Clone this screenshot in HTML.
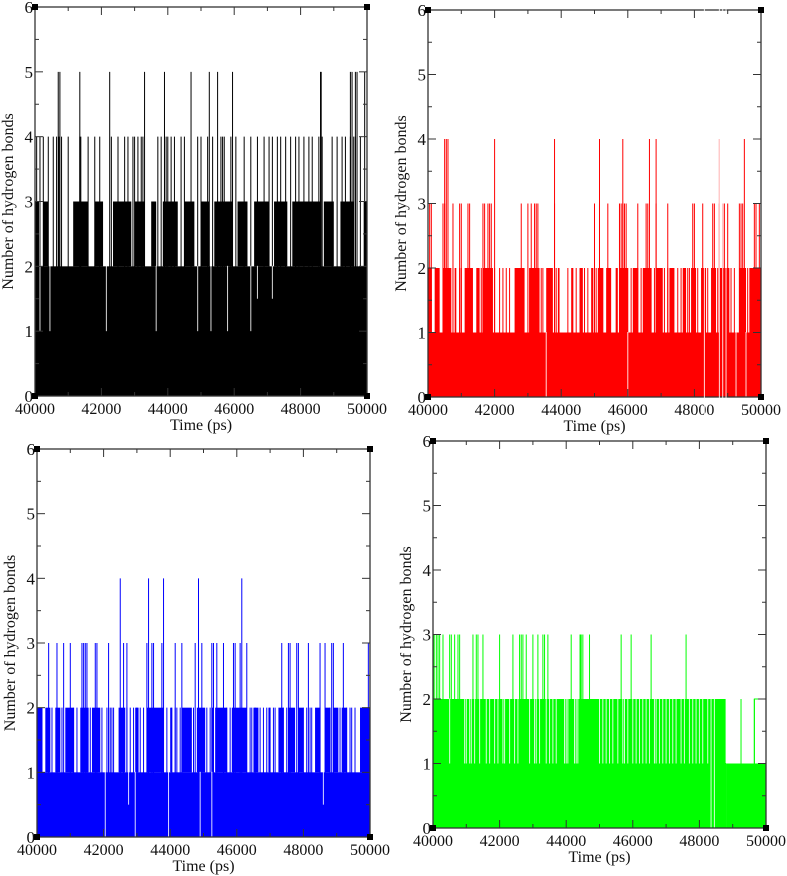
<!DOCTYPE html>
<html><head><meta charset="utf-8">
<style>
html,body{margin:0;padding:0;background:#fff;}
svg{display:block;font-family:"Liberation Serif",serif;}
</style></head>
<body>
<svg id="fig" width="787" height="876" viewBox="0 0 787 876"></svg>
<script>
// ---------- DATA ----------
const xTicks = [40000,42000,44000,46000,48000,50000];
const yTicks = [0,1,2,3,4,5,6];
// Panel A (black)
const aBase = [[40000,50000,2]];
const aBand = [[40000,40120,3],[40250,40400,3],[41150,41600,3],[41800,42050,3],[42350,42900,3],[43000,43300,3],[43500,43650,3],[43850,44300,3],[44500,44800,3],[45000,45250,3],[45400,45950,3],[46100,46400,3],[46600,47050,3],[47200,47600,3],[47750,48600,3],[48700,49000,3],[49200,49600,3],[49900,50000,3]];
const aSpikeT = [40050,40150,40250,40400,40550,40650,40720,40800,41000,41350,41380,41600,41800,41950,42300,42500,42700,42800,42950,43000,43100,43200,43250,43700,43800,43900,43950,44000,44100,44200,44400,44500,44900,45000,45200,45350,45600,45650,45700,45900,46050,46300,46500,46700,46900,47050,47150,47300,47400,47550,47700,47850,47950,48100,48250,48350,48550,48650,48950,49100,49250,49350,49500,49600,49650,49800,50000,40700,40750,41350,42250,43300,43900,44700,45250,45500,45950,48600,48620,49500,49550,49650,49700,49930];
const aSpikeV = [4,4,4,4,4,4,4,4,4,4,4,4,4,4,4,4,4,4,4,4,4,4,4,4,4,4,4,4,4,4,4,4,4,4,4,4,4,4,4,4,4,4,4,4,4,4,4,4,4,4,4,4,4,4,4,4,4,4,4,4,4,4,4,4,4,4,4,5,5,5,5,5,5,5,5,5,5,5,5,5,5,5,5,5];
const aDipT = [40150,40450,42150,43650,44900,45300,45800,46500,46700,47150];
const aDipV = [1,1,1,1,1,1,1,1,1.5,1.5];
// Panel B (red)
const bBase = [[40000,50000,1]];
const bBand = [[40000,40100,2],[40200,40350,2],[40450,40700,2],[40800,40850,2],[41100,41350,2],[41450,41550,2],[41650,41950,2],[42600,42900,2],[43050,43350,2],[43550,43750,2],[43900,43950,2],[44300,44350,2],[44550,44650,2],[44900,44950,2],[45100,45250,2],[45350,45500,2],[45650,45700,2],[45750,46000,2],[46150,46300,2],[46450,46700,2],[46850,47050,2],[47250,47400,2],[47650,47750,2],[47900,48050,2],[48200,48350,2],[48500,48650,2],[48750,49050,2],[49350,49550,2],[49650,50000,2]];
const bSpikeT = [40050,40100,40300,40450,40500,40550,40750,40950,41000,41200,41250,41600,41650,41850,41900,42000,42150,42250,42350,42450,42750,42800,43050,43150,43200,43250,43400,43450,43800,43850,44200,44350,44450,44700,44800,44950,45050,45250,45650,45800,46000,46100,46300,46400,46700,46800,47100,47200,47500,47600,47800,47850,48100,48400,48700,49100,49200,49600,49800,
 40050,40100,40450,40500,40750,40950,41000,41200,41250,41650,41700,41800,41850,41900,42800,43000,43100,43200,43250,43300,43800,45000,45150,45400,45750,45800,45850,45900,45950,46300,46550,46600,46850,47200,47950,48000,48250,48550,48600,48750,48850,48900,49000,49350,49400,49450,49800,49850,49950,
 40500,40550,40600,42000,43800,45150,45850,46650,46850,48750,49500];
const bSpikeV = [2,2,2,2,2,2,2,2,2,2,2,2,2,2,2,2,2,2,2,2,2,2,2,2,2,2,2,2,2,2,2,2,2,2,2,2,2,2,2,2,2,2,2,2,2,2,2,2,2,2,2,2,2,2,2,2,2,2,2,
 3,3,3,3,3,3,3,3,3,3,3,3,3,3,3,3,3,3,3,3,3,3,3,3,3,3,3,3,3,3,3,3,3,3,3,3,3,3,3,3,3,3,3,3,3,3,3,3,3,
 4,4,4,4,4,4,4,4,4,4,4];
const bDipT = [43550,46000,49250,49550];
const bDipV = [0,0,0,0];
// Panel C (blue)
const cBase = [[40000,50000,1]];
const cBand = [[40000,40150,2],[40250,40400,2],[40550,40700,2],[40850,41100,2],[41300,41550,2],[41650,41900,2],[42450,42650,2],[42950,43050,2],[43300,43800,2],[44000,44050,2],[44350,44650,2],[44800,45050,2],[45250,45300,2],[45350,45700,2],[45850,46300,2],[46500,46650,2],[46950,47000,2],[47250,47400,2],[47550,47750,2],[47850,48000,2],[48350,48500,2],[48650,48800,2],[48900,49050,2],[49150,49300,2],[49700,50000,2]];
const cSpikeT = [40150,40450,40750,41100,41200,41600,41950,42100,42200,42300,42700,42800,42900,43000,43100,43200,43900,44050,44200,44300,44700,45100,45200,45300,45700,45800,46400,46700,46800,46900,47000,47100,47400,47500,48000,48100,48200,48500,48800,49100,49300,49450,49550,42150,42250,44150,46450,46550,47150,48250,49400,
 40350,40600,40800,41000,41350,41400,41450,41500,41750,41800,42150,42600,42700,43300,43450,43500,43750,44150,44350,44750,44850,44950,45250,45300,45400,45600,45900,45950,46100,46300,47350,47550,47600,47800,47850,48150,48500,48650,48850,48900,49200,49950,
 42500,43350,43800,44850,46150];
const cSpikeV = [2,2,2,2,2,2,2,2,2,2,2,2,2,2,2,2,2,2,2,2,2,2,2,2,2,2,2,2,2,2,2,2,2,2,2,2,2,2,2,2,2,2,2,2,2,2,2,2,2,2,2,
 3,3,3,3,3,3,3,3,3,3,3,3,3,3,3,3,3,3,3,3,3,3,3,3,3,3,3,3,3,3,3,3,3,3,3,3,3,3,3,3,3,3,
 4,4,4,4,4];
const cDipT = [42050,42750,42950,43950,44900,45250,48600];
const cDipV = [0,0.5,0,0,0,0,0.5];
// Panel D (green)
const dBase = [[40000,48800,2],[48800,50000,1]];
const dBand = [[40000,40050,3],[44400,44450,3]];
const dStep = [[49650,50000,2]];
const dSpikeT = [40100,40150,40200,40300,40500,40550,40650,40750,40800,41200,41300,41350,41500,42000,42400,42600,42650,42700,42800,43000,43150,43300,43350,43450,44150,44450,44500,44700,45650,45950,46550,47600,
 49250,49650];
const dSpikeV = [3,3,3,3,3,3,3,3,3,3,3,3,3,3,3,3,3,3,3,3,3,3,3,3,3,3,3,3,3,3,3,3,
 2,2];
const dDipT = [40500,40950,41000,41100,41150,41250,41400,41600,41700,41850,41950,42100,42150,42300,42450,42550,42900,43050,43100,43200,43400,43500,43600,43700,43950,44000,44050,44250,44300,44350,45000,45100,45200,45300,45400,45550,45700,45750,45850,46000,46100,46200,46300,46400,46500,46650,46700,46800,46900,47000,47100,47200,47300,47450,47550,47700,47800,47900,48000,48100,48250,48350,48450,48600,48700,48150,48800];
const dDipV = [1,1,1,1,1,1,1,1,1,1,1,1,1,1,1,1,1,1,1,1,1,1,1,1,1,1,1,1,1,1,1,1,1,1,1,1,1,1,1,1,1,1,1,1,1,1,1,1,1,1,1,1,1,1,1,1,1,1,1,1,1,0,0];

// ---------- DRAW ----------
const NS = "http://www.w3.org/2000/svg";
const svg = document.getElementById('fig');
function mk(tag, attrs, parent){
  const e = document.createElementNS(NS, tag);
  for (const k in attrs) e.setAttribute(k, attrs[k]);
  (parent||svg).appendChild(e);
  return e;
}
function panel(id, box, color, base, band, sT, sV, dT, dV, steps){
  const g = mk('g', {});
  
  
  const x = t => box.x0 + (t-40000)/10000*(box.x1-box.x0);
  const y = v => box.y0 - v/6*(box.y0-box.y1);
  base.forEach(b=>{
    const r = mk('rect',{x:x(b[0]),y:y(b[2]),width:x(b[1])-x(b[0]),height:y(0)-y(b[2]),fill:color},g);
    
    
  });
  band.forEach(b=>{
    const lvl = b[2]-1;
    const r = mk('rect',{x:x(b[0]),y:y(b[2]),width:Math.max(1,x(b[1])-x(b[0])),height:y(lvl)-y(b[2]),fill:color},g);
    
    
  });
  (steps||[]).forEach(s=>{
    const p = mk('polyline',{points:`${x(s[0])},${y(1)} ${x(s[0])},${y(s[2])} ${x(s[1])},${y(s[2])} ${x(s[1])},${y(1)}`,fill:'none',stroke:color,'stroke-width':1},g);
    
    
  });
  sT.forEach((t,i)=>{
    const l = mk('line',{x1:x(t),x2:x(t),y1:y(0),y2:y(sV[i]),stroke:color,'stroke-width':1},g);
    
    
  });
  dT.forEach((t,i)=>{
    let top = 2;
    base.forEach(b=>{ if(t>=b[0]&&t<b[1]) top=b[2]; });
    const l = mk('line',{x1:x(t),x2:x(t),y1:y(dV[i]),y2:y(top)-0.5,stroke:'#fff','stroke-width':1,opacity:0.85},g);
    
    
  });
  const f = mk('rect',{x:box.x0,y:box.y1,width:box.x1-box.x0,height:box.y0-box.y1,fill:'none',stroke:'#333','stroke-width':1.3},g);
  
  
  for (let t=40000;t<=50000;t+=1000){
    const len = (t%2000===0)?8:4;
    mk('line',{x1:x(t),x2:x(t),y1:box.y0,y2:box.y0-len,stroke:'#333','stroke-width':1},g);
    mk('line',{x1:x(t),x2:x(t),y1:box.y1,y2:box.y1+len,stroke:'#333','stroke-width':1},g);
  }
  xTicks.forEach(t=>{
    const tx = mk('text',{x:x(t),y:box.y0+18,'text-anchor':'middle','font-size':16,fill:'#111'},g);
    tx.textContent = t;
    
    
  });
  for (let v=0; v<=6; v+=0.5){
    const len = (v%1===0)?8:4;
    mk('line',{x1:box.x0,x2:box.x0+len,y1:y(v),y2:y(v),stroke:'#333','stroke-width':1},g);
    mk('line',{x1:box.x1,x2:box.x1-len,y1:y(v),y2:y(v),stroke:'#333','stroke-width':1},g);
  }
  yTicks.forEach(v=>{
    const tx = mk('text',{x:box.x0-2,y:y(v)+6,'text-anchor':'end','font-size':17,fill:'#111'},g);
    tx.textContent = v;
    
    
  });
  [[box.x0,box.y1],[box.x1,box.y1],[box.x0,box.y0],[box.x1,box.y0]].forEach(p=>{
    mk('rect',{x:p[0]-3,y:p[1]-3,width:6,height:6,fill:'#000'},g);
  });
  const yt = mk('text',{x:0,y:0,'text-anchor':'middle','font-size':16,fill:'#111',transform:`translate(${box.x0-22},${(box.y0+box.y1)/2}) rotate(-90)`},g);
  yt.textContent = 'Number of hydrogen bonds';
  
  
  const xt = mk('text',{x:(box.x0+box.x1)/2,y:box.y0+34,'text-anchor':'middle','font-size':16,fill:'#111'},g);
  xt.textContent = 'Time (ps)';
  
  
}
panel('panel-black', {x0:35,x1:367,y1:7,y0:396}, '#000', aBase, aBand, aSpikeT, aSpikeV, aDipT, aDipV);
panel('panel-red', {x0:428,x1:761,y1:10,y0:397}, '#ff0000', bBase, bBand, bSpikeT, bSpikeV, bDipT, bDipV);
panel('panel-blue', {x0:37,x1:370,y1:449,y0:837}, '#0000ff', cBase, cBand, cSpikeT, cSpikeV, cDipT, cDipV);
panel('panel-green', {x0:433,x1:766,y1:441,y0:828}, '#00ff00', dBase, dBand, dSpikeT, dSpikeV, dDipT, dDipV, dStep);
</script>
</body></html>
